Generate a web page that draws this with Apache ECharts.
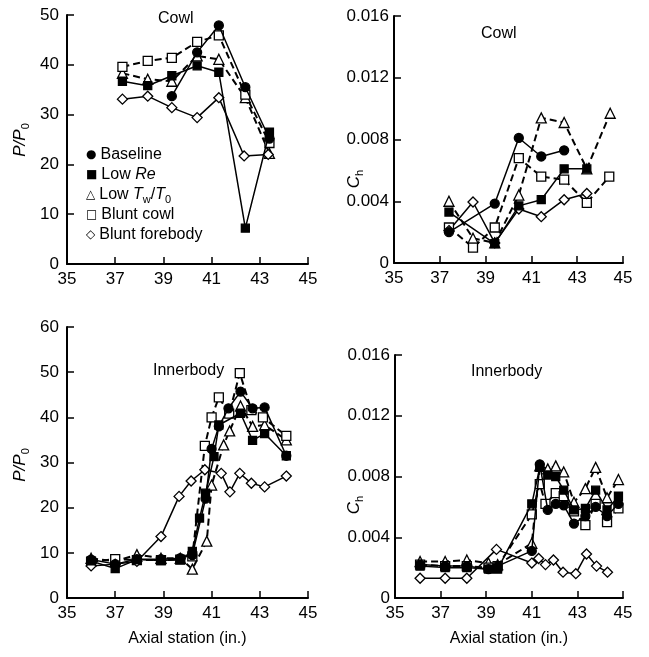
<!DOCTYPE html>
<html>
<head>
<meta charset="utf-8">
<script src="https://cdn.jsdelivr.net/npm/echarts@6/dist/echarts.min.js"></script>
<style>
  html, body { margin: 0; padding: 0; background: #fff; }
  #chart { width: 649px; height: 657px; }
</style>
</head>
<body>
<div id="chart"></div>
<script>
// axial stations / values
const cowlP_baseline = [[39.35, 33.7], [40.4, 42.5], [41.3, 47.9], [42.4, 35.5], [43.4, 25.2]];
const cowlP_lowRe = [[37.3, 36.7], [38.35, 35.8], [39.35, 37.8], [40.4, 39.8], [41.3, 38.5], [42.4, 7.2], [43.4, 26.5]];
const cowlP_lowTw = [[37.3, 38.3], [38.35, 37.1], [39.35, 36.7], [40.4, 41.8], [41.3, 41.1], [42.4, 33.4], [43.4, 22.2]];
const cowlP_bluntCowl = [[37.3, 39.6], [38.35, 40.8], [39.35, 41.4], [40.4, 44.6], [41.3, 45.9], [42.4, 34], [43.4, 24.3]];
const cowlP_bluntFore = [[37.3, 33.1], [38.35, 33.7], [39.35, 31.4], [40.4, 29.4], [41.3, 33.4], [42.35, 21.7], [43.35, 22]];

const cowlCh_baseline = [[37.4, 0.0020], [39.4, 0.00385], [40.45, 0.0081], [41.43, 0.0069], [42.43, 0.0073]];
const cowlCh_lowRe = [[37.4, 0.0033], [39.4, 0.00126], [40.45, 0.0037], [41.43, 0.0041], [42.43, 0.0061], [43.42, 0.0061]];
const cowlCh_lowTw = [[37.4, 0.0040], [38.45, 0.0016], [39.4, 0.0013], [40.45, 0.0044], [41.43, 0.0094], [42.43, 0.0091], [43.42, 0.0061], [44.44, 0.0097]];
const cowlCh_bluntCowl = [[37.4, 0.0023], [38.45, 0.0010], [39.4, 0.0023], [40.45, 0.0068], [41.43, 0.0056], [42.43, 0.0054], [43.42, 0.0039], [44.4, 0.0056]];
const cowlCh_bluntFore = [[37.4, 0.0021], [38.45, 0.00395], [39.4, 0.0013], [40.45, 0.0035], [41.43, 0.0030], [42.43, 0.0041], [43.42, 0.0045]];

const innerP_baseline = [[36.0, 8.5], [37.0, 7.5], [37.9, 8.6], [38.9, 8.6], [39.7, 8.8], [40.2, 9.5], [40.75, 22], [41.0, 33], [41.3, 38], [41.7, 42], [42.2, 45.7], [42.7, 42], [43.2, 42.2], [44.1, 31.5]];
const innerP_lowRe = [[36.0, 8.2], [37.0, 6.5], [37.9, 8.5], [38.9, 8.3], [39.7, 8.5], [40.2, 10.3], [40.5, 17.7], [40.75, 23.2], [41.1, 31.3], [41.3, 38.3], [42.2, 40.9], [42.7, 34.9], [43.2, 36.4], [44.1, 31.5]];
const innerP_lowTw = [[36.0, 8.8], [37.0, 8.1], [37.9, 9.6], [38.9, 8.8], [39.7, 8.8], [40.2, 6.4], [40.8, 12.6], [41.0, 25], [41.5, 33.9], [41.75, 37], [42.2, 42.5], [42.7, 38], [43.2, 38.3], [44.1, 35]];
const innerP_bluntCowl = [[36.0, 8], [37.0, 8.6], [37.9, 8.4], [38.9, 8.4], [39.7, 8.5], [40.2, 9.2], [40.72, 33.7], [41.0, 40], [41.3, 44.4], [41.73, 40.8], [42.17, 49.8], [42.65, 41.6], [43.13, 40], [44.1, 35.9]];
const innerP_bluntFore = [[36.0, 7.1], [37.0, 7.5], [37.9, 8.1], [38.9, 13.6], [39.65, 22.5], [40.15, 25.9], [40.72, 28.4], [41.4, 27.6], [41.76, 23.5], [42.17, 27.6], [42.65, 25.4], [43.2, 24.6], [44.1, 27]];

const innerCh_baseline = [[36.1, 0.0022], [37.2, 0.0021], [38.15, 0.0021], [39.1, 0.0019], [39.5, 0.0021], [41.0, 0.0031], [41.35, 0.0088], [41.7, 0.0058], [42.05, 0.0062], [42.4, 0.0061], [42.85, 0.0049], [43.35, 0.0054], [43.8, 0.0060], [44.3, 0.0054], [44.8, 0.0062]];
const innerCh_lowRe = [[36.1, 0.0021], [37.2, 0.0020], [38.15, 0.0020], [39.1, 0.0019], [39.5, 0.0019], [41.0, 0.0062], [41.35, 0.0086], [41.7, 0.0081], [42.05, 0.0080], [42.4, 0.0071], [42.85, 0.0058], [43.35, 0.0059], [43.8, 0.0071], [44.3, 0.0058], [44.8, 0.0067]];
const innerCh_lowTw = [[36.1, 0.0024], [37.2, 0.0024], [38.15, 0.0025], [39.1, 0.0023], [39.5, 0.0022], [41.0, 0.0036], [41.35, 0.0087], [41.7, 0.0085], [42.05, 0.0087], [42.4, 0.0083], [42.85, 0.0063], [43.35, 0.0072], [43.8, 0.0086], [44.3, 0.0066], [44.8, 0.0078]];
const innerCh_bluntCowl = [[36.1, 0.0022], [37.2, 0.0021], [38.15, 0.0021], [39.1, 0.0020], [39.5, 0.0021], [41.0, 0.0055], [41.35, 0.0075], [41.6, 0.0062], [42.05, 0.0069], [42.4, 0.0067], [42.85, 0.0057], [43.35, 0.0048], [43.8, 0.0062], [44.3, 0.0050], [44.8, 0.0059]];
const innerCh_bluntFore = [[36.1, 0.0013], [37.2, 0.0013], [38.15, 0.0013], [39.45, 0.0032], [41.0, 0.0023], [41.3, 0.0026], [41.6, 0.0022], [41.95, 0.0025], [42.37, 0.0017], [42.93, 0.0016], [43.4, 0.0029], [43.84, 0.0021], [44.32, 0.0017]];

const xRange = [35, 45];
const panelTitles = ["Cowl", "Cowl", "Innerbody", "Innerbody"];

const FONT = "Liberation Sans, Arial, Helvetica, sans-serif";

const styles = {
  baseline: { symbol: "circle", size: 9, fill: "#000", dash: false },
  lowRe: { symbol: "rect", size: 8, fill: "#000", dash: false },
  lowTw: { symbol: "triangle", size: 10, fill: "#fff", dash: true },
  bluntCowl: { symbol: "rect", size: 9, fill: "#fff", dash: true },
  bluntFore: { symbol: "diamond", size: 10, fill: "#fff", dash: false }
};

function makeSeries(name, data, idx, key) {
  const s = styles[key];
  return {
    name: name,
    type: "line",
    xAxisIndex: idx,
    yAxisIndex: idx,
    data: data,
    symbol: s.symbol,
    symbolSize: s.size,
    showAllSymbol: true,
    itemStyle: { color: s.fill, borderColor: "#000", borderWidth: 1.3 },
    lineStyle: { color: "#000", width: s.dash ? 2 : 1.5, type: s.dash ? [7, 4] : "solid" },
    z: s.fill === "#fff" ? 3 : 4,
    animation: false,
    silent: true
  };
}

function xAxis(idx, withName) {
  return {
    type: "value",
    gridIndex: idx,
    min: xRange[0],
    max: xRange[1],
    interval: 2,
    name: withName ? "Axial station (in.)" : "",
    nameLocation: "middle",
    nameGap: 33,
    nameTextStyle: { fontFamily: FONT, fontSize: 16, color: "#000" },
    axisLine: { show: true, onZero: false, lineStyle: { color: "#000", width: 2 } },
    axisTick: { show: true, inside: true, length: 7, lineStyle: { color: "#000", width: 1.5 } },
    axisLabel: { fontFamily: FONT, fontSize: 17, color: "#000", margin: 7 },
    splitLine: { show: false }
  };
}

function yAxis(idx, max, interval, isCh) {
  return {
    type: "value",
    gridIndex: idx,
    min: 0,
    max: max,
    interval: interval,
    axisLine: { show: true, lineStyle: { color: "#000", width: 2 } },
    axisTick: { show: true, inside: true, length: 7, lineStyle: { color: "#000", width: 1.5 } },
    axisLabel: {
      fontFamily: FONT,
      fontSize: 17,
      color: "#000",
      margin: isCh ? 5 : 8,
      formatter: isCh ? (v => (v === 0 ? "0" : v.toFixed(3))) : (v => String(v))
    },
    splitLine: { show: false }
  };
}

const seriesDefs = [
  [cowlP_baseline, cowlP_lowRe, cowlP_lowTw, cowlP_bluntCowl, cowlP_bluntFore],
  [cowlCh_baseline, cowlCh_lowRe, cowlCh_lowTw, cowlCh_bluntCowl, cowlCh_bluntFore],
  [innerP_baseline, innerP_lowRe, innerP_lowTw, innerP_bluntCowl, innerP_bluntFore],
  [innerCh_baseline, innerCh_lowRe, innerCh_lowTw, innerCh_bluntCowl, innerCh_bluntFore]
];
const keys = ["baseline", "lowRe", "lowTw", "bluntCowl", "bluntFore"];
const names = ["Baseline", "Low Re", "Low Tw/T0", "Blunt cowl", "Blunt forebody"];

const series = [];
seriesDefs.forEach((group, idx) => {
  group.forEach((d, k) => series.push(makeSeries(names[k], d, idx, keys[k])));
});

const subRich = {
  m: { fontFamily: "DejaVu Sans", fontSize: 12, color: "#000", lineHeight: 20, padding: [0, 4, 0, 0] },
  t: { fontFamily: FONT, fontSize: 16, color: "#000", lineHeight: 20 },
  i: { fontFamily: FONT, fontSize: 16, fontStyle: "italic", color: "#000", lineHeight: 20 },
  a: { fontFamily: FONT, fontSize: 17, fontStyle: "italic", color: "#000", lineHeight: 22 },
  s: { fontFamily: FONT, fontSize: 11, color: "#000", lineHeight: 10, verticalAlign: "bottom" }
};
const legendLines = [
  "{m|●}{t|Baseline}",
  "{m|■}{t|Low }{i|Re}",
  "{m|△}{t|Low }{i|T}{s|w}{t|/}{i|T}{s|0}",
  "{m|□}{t|Blunt cowl}",
  "{m|◇}{t|Blunt forebody}"
];

// rotated y-axis names: [text, centre x, centre y]
const yNames = [
  ["{a|P}{a|/}{a|P}{s|0}", 20, 140],
  ["{a|C}{s|h}", 354, 179],
  ["{a|P}{a|/}{a|P}{s|0}", 20, 465],
  ["{a|C}{s|h}", 354, 505]
];

const graphics = legendLines.map((txt, i) => ({
  type: "text",
  left: 86,
  top: 147 + i * 20,
  style: { text: txt, rich: subRich }
})).concat(yNames.map(n => ({
  type: "text",
  x: n[1],
  y: n[2],
  rotation: Math.PI / 2,
  style: { text: n[0], rich: subRich, align: "center", verticalAlign: "middle" }
})));

const chart = echarts.init(document.getElementById("chart"), null, { renderer: "canvas" });
chart.setOption({
  backgroundColor: "#fff",
  animation: false,
  title: [
    { text: panelTitles[0], left: 153, top: 6 },
    { text: panelTitles[1], left: 476, top: 21 },
    { text: panelTitles[2], left: 148, top: 358 },
    { text: panelTitles[3], left: 466, top: 359 }
  ].map(t => Object.assign(t, { textStyle: { fontFamily: FONT, fontSize: 16, fontWeight: "normal", color: "#000" } })),
  grid: [
    { left: 67, top: 15, width: 241, height: 249 },
    { left: 394, top: 16, width: 229, height: 247 },
    { left: 67, top: 327, width: 241, height: 271 },
    { left: 395, top: 355, width: 228, height: 243 }
  ],
  xAxis: [xAxis(0, false), xAxis(1, false), xAxis(2, true), xAxis(3, true)],
  yAxis: [
    yAxis(0, 50, 10, false),
    yAxis(1, 0.016, 0.004, true),
    yAxis(2, 60, 10, false),
    yAxis(3, 0.016, 0.004, true)
  ],
  graphic: graphics,
  series: series
});
</script>
</body>
</html>
